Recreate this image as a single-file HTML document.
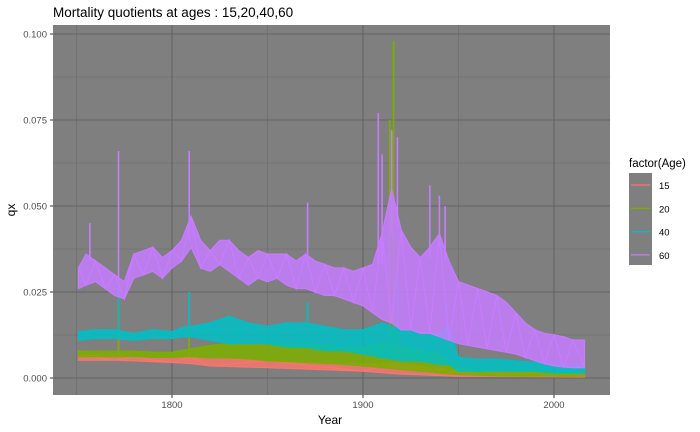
<!DOCTYPE html>
<html><head><meta charset="utf-8"><style>
body{margin:0;background:#fff;}
svg{display:block;font-family:"Liberation Sans",Arial,sans-serif;}
</style></head><body>
<svg id="chart" width="700" height="432" viewBox="0 0 700 432">
<text x="53" y="17" font-size="13.5" fill="#000">Mortality quotients at ages : 15,20,40,60</text>
<rect x="53" y="25" width="557" height="370" fill="#7F7F7F"/>
<g id="grid"></g>
<g id="series"></g>
<g id="axes"></g>
<text x="330" y="424" font-size="12" text-anchor="middle" fill="#000">Year</text>
<text x="15" y="210" font-size="12" text-anchor="middle" fill="#000" transform="rotate(-90 15 210)">qx</text>
<g>
<text x="629" y="167" font-size="11.5" fill="#000">factor(Age)</text>
<rect x="629" y="173" width="23" height="92" fill="#7F7F7F"/>
<g id="legend-entries"></g>
</g>
</svg>
<script>
const ages = ["15","20","40","60"];
const colors = ["#F8766D","#7CAE00","#00BFC4","#C77CFF"];

const years60 = [1751,1755,1760,1765,1770,1775,1780,1785,1790,1795,1800,1805,1810,1815,1820,1825,1830,1835,1840,1845,1850,1855,1860,1865,1870,1875,1880,1885,1890,1895,1900,1905,1910,1915,1920,1925,1930,1935,1940,1945,1950,1955,1960,1965,1970,1975,1980,1985,1990,1995,2000,2005,2010,2016];
const lo60 = [.026,.027,.028,.026,.024,.023,.029,.030,.031,.029,.032,.034,.038,.032,.031,.033,.031,.029,.027,.029,.028,.029,.027,.026,.026,.025,.024,.024,.023,.022,.021,.019,.017,.016,.014,.014,.013,.013,.012,.011,.010,.0095,.009,.0085,.008,.0075,.007,.006,.005,.0042,.0035,.0032,.003,.003];
const hi60 = [.032,.036,.034,.032,.030,.028,.036,.037,.038,.035,.037,.040,.047,.040,.037,.040,.040,.037,.035,.037,.036,.036,.036,.034,.036,.034,.033,.032,.032,.031,.032,.033,.042,.055,.043,.038,.035,.038,.042,.034,.028,.027,.026,.025,.024,.022,.019,.016,.014,.013,.0125,.012,.011,.011];
const spikeYears60 = [1757,1772,1809,1871,1908,1910,1915,1918,1935,1940,1943];
const spikeVals60 = [.045,.066,.066,.051,.077,.065,.072,.070,.056,.053,.050];

const years40 = [1751,1760,1770,1780,1790,1800,1805,1810,1820,1830,1840,1850,1860,1870,1880,1890,1900,1910,1920,1930,1940,1945,1950,1960,1970,1980,1990,2000,2016];
const lo40 = [.011,.0115,.0115,.011,.0115,.0115,.012,.012,.011,.010,.010,.010,.009,.009,.008,.008,.007,.006,.005,.005,.004,.004,.002,.002,.002,.002,.002,.0015,.0015];
const hi40 = [.0135,.014,.014,.013,.014,.0135,.0145,.015,.016,.018,.016,.015,.016,.016,.015,.014,.014,.016,.014,.013,.013,.015,.006,.0055,.0055,.005,.0045,.004,.004];
const spikeYears40 = [1772,1809,1871,1918,1944];
const spikeVals40 = [.027,.025,.022,.030,.022];

const years20 = [1751,1770,1780,1790,1800,1810,1820,1830,1840,1850,1870,1890,1900,1910,1920,1940,1950,1970,2016];
const lo20 = [.0062,.0062,.0062,.006,.006,.0062,.0058,.0058,.0055,.005,.0045,.004,.0035,.003,.0025,.0015,.001,.0006,.0005];
const hi20 = [.0078,.0078,.0078,.0075,.0075,.0085,.0095,.010,.010,.010,.010,.009,.009,.010,.009,.007,.003,.002,.0015];
const spikeYears20 = [1772,1809,1914,1916,1918];
const spikeVals20 = [.020,.015,.075,.098,.040];

const years15 = [1751,1770,1780,1800,1810,1820,1850,1900,1918,1950,2016];
const lo15 = [.0052,.0052,.005,.0045,.0042,.0035,.003,.002,.0012,.0005,.0003];
const hi15 = [.0065,.0065,.006,.006,.006,.0058,.005,.004,.0045,.002,.001];
const spikeYears15 = [1772,1809,1918];
const spikeVals15 = [.013,.010,.009];

const yTicks = [0,0.025,0.05,0.075,0.1];
const yTickLabels = ["0.000","0.025","0.050","0.075","0.100"];
const xTicks = [1800,1900,2000];
const xTickLabels = ["1800","1900","2000"];

const NS="http://www.w3.org/2000/svg";
const X0=53,X1=610,Y0=25,Y1=395;
function xs(yr){return 172+(yr-1800)*1.91;}
function ys(v){return 378-v*3440;}
function mk(tag,attrs,parent){const e=document.createElementNS(NS,tag);for(const k in attrs)e.setAttribute(k,attrs[k]);parent.appendChild(e);return e;}

const grid=document.getElementById('grid');
[0.0125,0.0375,0.0625,0.0875].forEach(v=>{const l=mk('line',{x1:X0,x2:X1,y1:ys(v),y2:ys(v),stroke:'#6B6B6B','stroke-width':0.6},grid);

});
[1750,1850,1950].forEach(v=>{const l=mk('line',{x1:xs(v),x2:xs(v),y1:Y0,y2:Y1,stroke:'#6B6B6B','stroke-width':0.6},grid);

});
yTicks.forEach(v=>{const l=mk('line',{x1:X0,x2:X1,y1:ys(v),y2:ys(v),stroke:'#636363','stroke-width':1.1},grid);

});
xTicks.forEach(v=>{const l=mk('line',{x1:xs(v),x2:xs(v),y1:Y0,y2:Y1,stroke:'#636363','stroke-width':1.1},grid);

});

const axes=document.getElementById('axes');
yTicks.forEach((v,i)=>{mk('line',{x1:X0-3,x2:X0,y1:ys(v),y2:ys(v),stroke:'#333','stroke-width':1},axes);
const t=mk('text',{x:X0-6,y:ys(v)+3.5,'font-size':9.5,'text-anchor':'end',fill:'#4D4D4D'},axes);t.textContent=yTickLabels[i];

});
xTicks.forEach((v,i)=>{mk('line',{x1:xs(v),x2:xs(v),y1:Y1,y2:Y1+3,stroke:'#333','stroke-width':1},axes);
const t=mk('text',{x:xs(v),y:Y1+13,'font-size':9.5,'text-anchor':'middle',fill:'#4D4D4D'},axes);t.textContent=xTickLabels[i];

});

const series=[
 [years15,lo15,hi15,spikeYears15,spikeVals15],
 [years20,lo20,hi20,spikeYears20,spikeVals20],
 [years40,lo40,hi40,spikeYears40,spikeVals40],
 [years60,lo60,hi60,spikeYears60,spikeVals60]];
const sg=document.getElementById('series');
series.forEach((s,i)=>{
 const [yrs,lo,hi,sy,sv]=s;const c=colors[i];
 const g=mk('g',{},sg);
 
 
 let pts=yrs.map((y,j)=>xs(y)+','+ys(hi[j]));
 for(let j=yrs.length-1;j>=0;j--)pts.push(xs(yrs[j])+','+ys(lo[j]));
 const band=mk('polygon',{points:pts.join(' '),fill:c,'fill-opacity':0.85,stroke:c,'stroke-width':1.2},g);
 
 
 let z=[];yrs.forEach((y,j)=>{z.push(xs(y)+','+ys(j%2?lo[j]:hi[j]));});
 const zl=mk('polyline',{points:z.join(' '),fill:'none',stroke:c,'stroke-width':1.2},g);
 
 
 sy.forEach((y,j)=>{let base=null;
  for(let k=0;k<yrs.length-1;k++){if(y>=yrs[k]&&y<=yrs[k+1]){base=Math.min(hi[k],hi[k+1]);break;}}
  if(base===null)base=hi[hi.length-1];
  const l=mk('line',{x1:xs(y),x2:xs(y),y1:ys(base),y2:ys(sv[j]),stroke:c,'stroke-width':1.6},g);
  
  });
});

const le=document.getElementById('legend-entries');
ages.forEach((a,i)=>{const y=185+i*23.3;
 const g=mk('g',{},le);
 
 
 mk('line',{x1:631,x2:650,y1:y,y2:y,stroke:colors[i],'stroke-width':1.3},g);
 const t=mk('text',{x:659,y:y+4,'font-size':9.5,fill:'#000'},g);t.textContent=a;});
</script>
</body></html>
